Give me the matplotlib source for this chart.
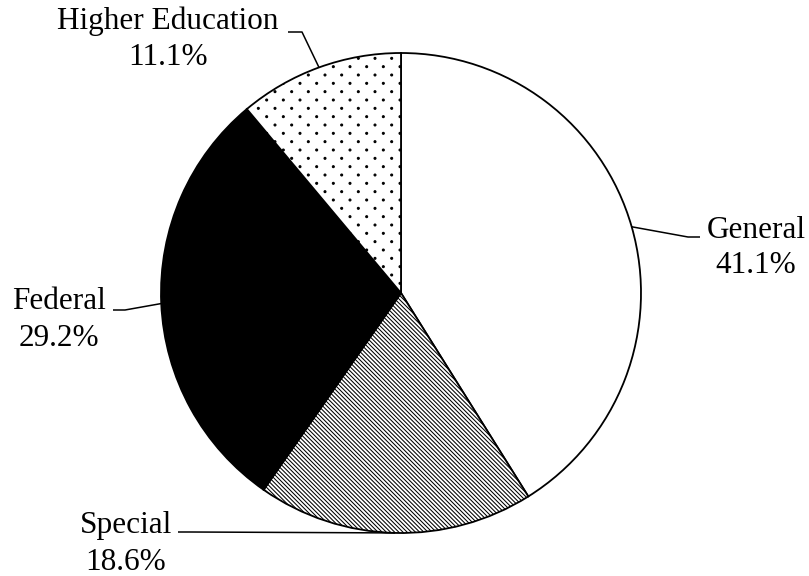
import numpy as np
import matplotlib
matplotlib.use("Agg")
import matplotlib.pyplot as plt
from matplotlib import hatch as mhatch
from matplotlib.path import Path

# Budget shares by category (percent)
categories = ["General", "Special", "Federal", "Higher Education"]
shares = [41.1, 18.6, 29.2, 11.1]

# Wedge styling
fills = ["white", "white", "black", "white"]
hatches = ["", "\\" * 8, "", ".."]


class StaggeredDots(mhatch.HatchPatternBase):
    """Small filled dots on offset rows, dots twice as far apart along a row as rows are apart."""
    size = 0.12

    def __init__(self, hatch, density):
        n = hatch.count('.') * density
        n -= n % 2
        self.num_rows = n
        circle = Path.unit_circle()
        self.shape_vertices = circle.vertices
        self.shape_codes = circle.codes
        centres = []
        if n:
            step = 1.0 / n
            for row in range(n + 1):
                start = 0.0 if row % 2 == 0 else step
                for col in np.arange(start, 1.0 + step / 2, 2 * step):
                    centres.append((col, row * step))
        self.centres = centres
        self.num_vertices = len(centres) * len(self.shape_vertices)

    def set_vertices_and_codes(self, vertices, codes):
        shape = self.shape_vertices * self.size / self.num_rows
        k = len(shape)
        for i, c in enumerate(self.centres):
            vertices[i * k:(i + 1) * k] = shape + c
            codes[i * k:(i + 1) * k] = self.shape_codes


mhatch._hatch_types = [StaggeredDots if t is mhatch.SmallFilledCircles else t
                       for t in mhatch._hatch_types]

plt.rcParams["hatch.color"] = "black"
plt.rcParams["hatch.linewidth"] = 0.75

W, H, DPI = 809, 576, 100
CX, CY, R = 401, 293, 240  # pie centre and radius in pixels


def px(x, y):
    """Pixel position (from top-left) to data coordinates where the pie has radius 1."""
    return ((x - CX) / R, (CY - y) / R)


fig = plt.figure(figsize=(W / DPI, H / DPI), dpi=DPI)
ax = fig.add_axes([0, 0, 1, 1])

wedges, _ = ax.pie(shares, startangle=90, counterclock=False, colors=fills,
                   wedgeprops={"edgecolor": "black", "linewidth": 1.3})
for w, h in zip(wedges, hatches):
    if h:
        w.set_hatch(h)

ax.set_xlim(-CX / R, (W - CX) / R)
ax.set_ylim(-(H - CY) / R, CY / R)
ax.set_aspect("equal")
ax.axis("off")

# Label layout: text centre x, baselines of the two lines, leader path from text to pie
layout = {
    "General": dict(x=756, y1=238, y2=273, path=[(700, 237), (688, 237)]),
    "Special": dict(x=126, y1=533, y2=570, path=[(178, 532), (190, 532)]),
    "Federal": dict(x=59, y1=309, y2=346, path=[(113, 310), (125, 310)]),
    "Higher Education": dict(x=168, y1=29, y2=65, path=[(288, 32), (302, 32)]),
}

font = dict(family="Liberation Serif", size=22.5, color="black")

for w, name, val in zip(wedges, categories, shares):
    lay = layout[name]
    tx, ty1 = px(lay["x"], lay["y1"])
    _, ty2 = px(lay["x"], lay["y2"])
    ax.text(tx, ty1, name, ha="center", va="baseline", **font)
    ax.text(tx, ty2, f"{val:.1f}%", ha="center", va="baseline", **font)

    mid = np.deg2rad((w.theta1 + w.theta2) / 2)
    edge = (w.r * np.cos(mid), w.r * np.sin(mid))
    pts = [px(*p) for p in lay["path"]] + [edge]
    xs, ys = zip(*pts)
    ax.plot(xs, ys, color="black", lw=1.1, solid_capstyle="butt")

fig.savefig("out.png", dpi=DPI)
